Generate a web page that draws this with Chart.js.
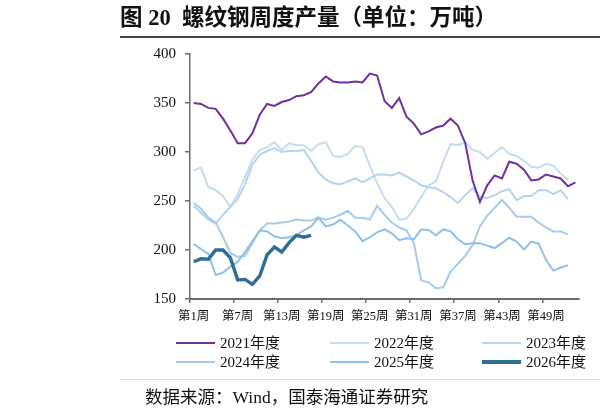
<!DOCTYPE html>
<html><head><meta charset="utf-8">
<script src="https://cdn.jsdelivr.net/npm/chart.js@4.4.1/dist/chart.umd.min.js"></script>
<style>
html,body{margin:0;padding:0;background:#fff;}
#wrap{position:relative;width:600px;height:417px;overflow:hidden;font-family:'Liberation Serif','Noto Sans CJK SC',serif;}
#c{position:absolute;left:0;top:0;}
.title{position:absolute;left:120px;top:5px;font-size:22.5px;font-weight:bold;line-height:26px;color:#111;white-space:nowrap;}
.rule{position:absolute;left:120px;top:36px;width:480px;height:2px;background:#444;}
.sep{position:absolute;left:120px;top:379px;width:480px;height:1px;background:#ddd;}
.leg{position:absolute;font-size:15px;line-height:18px;white-space:nowrap;color:#111;}
.legline{position:absolute;width:39px;}
.src{position:absolute;left:145px;top:386px;font-size:17.5px;line-height:22px;color:#111;white-space:nowrap;}
</style></head>
<body>
<div id="wrap">
<canvas id="c" width="600" height="417"></canvas>
<div class="title">图 20&nbsp; 螺纹钢周度产量（单位：万吨）</div>
<div class="rule"></div>
<div id="legend"></div>
<div class="sep"></div>
<div class="src">数据来源：Wind，国泰海通证券研究</div>
</div>
<script>
// ---- data ----
const weeks = Array.from({length: 53}, (_, i) => '第' + (i + 1) + '周');
const seriesNames = ['2021年度', '2022年度', '2023年度', '2024年度', '2025年度', '2026年度'];
const y2021 = [350,349,345,344,334,322,309,309,319,338,349,347,351,353,357,358,361,370,377,372,371,371,372,371,380,378,352,345,355,336,329,318,321,325,327,334,327,309,271,249,266,276,273,290,288,282,271,272,277,275,273,265,269];
const y2022 = [281,284,264,261,255,244,257,274,292,302,305,310,302,309,307,307,301,308,310,296,295,298,306,305,286,268,253,244,231,232,242,254,266,270,290,308,307,310,302,300,293,299,305,298,296,291,285,284,288,286,278,272];
const y2023 = [245,238,231,227,236,244,252,267,287,297,301,304,300,301,301,302,291,279,272,268,267,270,273,269,273,277,277,276,279,275,271,266,264,263,259,254,248,256,263,254,253,256,260,262,251,255,255,261,261,257,261,252];
const y2024 = [248,242,233,228,213,197,193,194,207,220,227,227,228,229,231,230,230,233,231,233,236,240,233,233,231,245,236,228,223,220,207,169,167,161,162,178,186,194,205,224,235,243,251,243,234,234,234,228,223,219,219,216];
const y2025 = [206,201,196,174.5,177,183,188,198,209,220,219,214,212,213,215,220,224,233,224,226,231,225,219,209,213,218,221,217,210,212,211,221,220.5,215,221,219,211,206,207,207,204.5,202,207,212.5,208.5,200.5,208.5,206.5,190,179,182,184.5];
const y2026 = [188,191,190.5,200,200,192,169.5,170,165,173.5,195,203,198,207.5,215,213,215];
const yTicks = [150, 200, 250, 300, 350, 400];

// ---- styles ----
const colors = ['#7030a0', '#c6dcf1', '#b7d4ee', '#a6cbec', '#90c0e7', '#2e6e96'];
const widths = [2, 2, 2, 2, 2, 3.4];
const drawOrder = [1, 5, 4, 3, 2, 0];
const allSeries = [y2021, y2022, y2023, y2024, y2025, y2026];

const datasets = allSeries.map((d, i) => ({
  label: seriesNames[i],
  data: d,
  borderColor: colors[i],
  backgroundColor: colors[i],
  borderWidth: widths[i],
  pointRadius: 0,
  pointHoverRadius: 0,
  tension: 0,
  fill: false,
  order: drawOrder[i]
}));

const axisColor = '#6b6b6b';
new Chart(document.getElementById('c'), {
  type: 'line',
  data: { labels: weeks, datasets },
  options: {
    responsive: false,
    animation: false,
    devicePixelRatio: 1,
    layout: { padding: { left: 0, right: 21, top: 54, bottom: 78 } },
    plugins: { legend: { display: false }, tooltip: { enabled: false } },
    scales: {
      x: {
        type: 'category',
        offset: true,
        grid: {
          offset: true,
          drawOnChartArea: false,
          tickLength: 4,
          lineWidth: 1.5,
          tickColor: (ctx) => (ctx.index % 6 === 0 && ctx.index < weeks.length) ? axisColor : 'rgba(0,0,0,0)'
        },
        border: { color: axisColor, width: 2 },
        ticks: {
          autoSkip: false,
          maxRotation: 0,
          minRotation: 0,
          padding: 6,
          color: '#111',
          font: { family: "'Liberation Serif','Noto Sans CJK SC',serif", size: 12.5 },
          callback: (v, i) => (i % 6 === 0 ? weeks[i] : '')
        },
        afterFit: (s) => { s.height = 40; }
      },
      y: {
        min: yTicks[0],
        max: yTicks[yTicks.length - 1],
        afterBuildTicks: (s) => { s.ticks = yTicks.map(v => ({ value: v })); },
        grid: { drawOnChartArea: false, tickLength: 5, lineWidth: 1.5, tickColor: axisColor },
        border: { color: axisColor, width: 1.5 },
        ticks: {
          padding: 9,
          color: '#111',
          font: { family: "'Liberation Serif',serif", size: 15 }
        },
        afterFit: (s) => { s.width = 190; }
      }
    }
  }
});

// ---- legend (HTML, built from series names/colors) ----
const legCols = [176, 330, 482];
const legRows = [343, 362];
const leg = document.getElementById('legend');
seriesNames.forEach((name, i) => {
  const cx = legCols[i % 3], cy = legRows[Math.floor(i / 3)];
  const ln = document.createElement('div');
  ln.className = 'legline';
  ln.style.left = cx + 'px';
  ln.style.top = (cy - widths[i] / 2) + 'px';
  ln.style.height = widths[i] + 'px';
  ln.style.background = colors[i];
  leg.appendChild(ln);
  const tx = document.createElement('div');
  tx.className = 'leg';
  tx.style.left = (cx + 44) + 'px';
  tx.style.top = (cy - 9) + 'px';
  tx.textContent = name;
  leg.appendChild(tx);
});
</script>
</body></html>
